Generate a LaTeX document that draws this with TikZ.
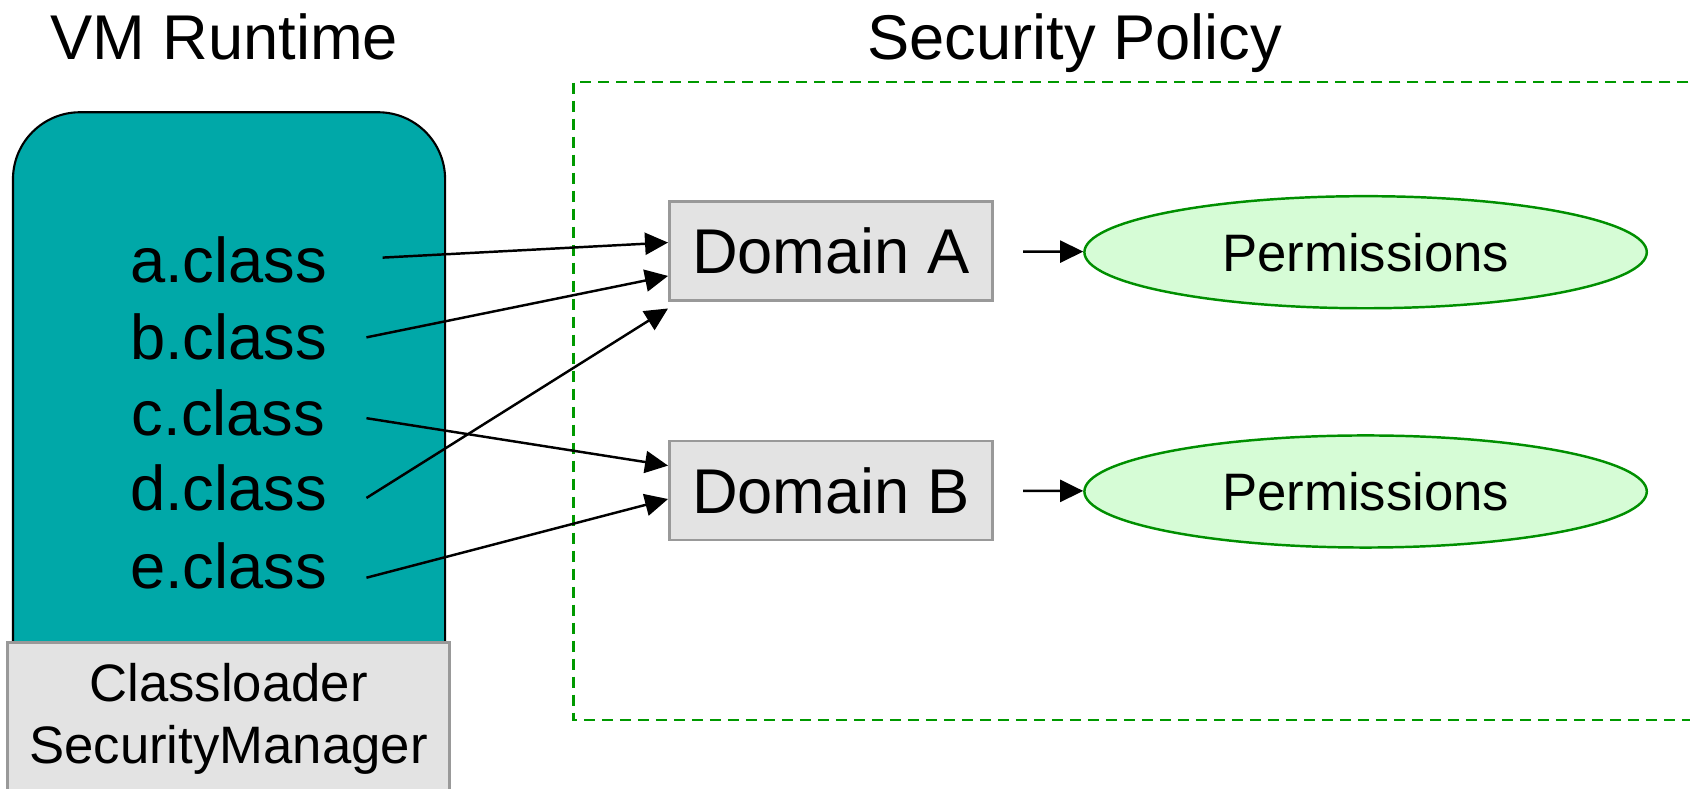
\documentclass[tikz,border=0pt]{standalone}
\usepackage{fontspec}
\setmainfont{Liberation Sans}
\usetikzlibrary{arrows.meta,shapes.geometric}
\definecolor{vmteal}{RGB}{0,168,168}
\definecolor{boxgray}{RGB}{153,153,153}
\definecolor{boxfill}{RGB}{227,227,227}
\definecolor{policygreen}{RGB}{0,153,0}
\definecolor{permline}{RGB}{0,143,0}
\definecolor{permfill}{RGB}{214,252,214}
\tikzset{
	bigtext/.style={font=\fontsize{36}{43}\selectfont},
	smalltext/.style={font=\fontsize{30}{35.4}\selectfont},
	runtime/.style={draw=black, fill=vmteal, line width=1.2pt, rounded corners=1.34cm, minimum width=8.644cm, minimum height=12.93cm, inner sep=0pt},
	domainbox/.style={bigtext, draw=boxgray, fill=boxfill, line width=1.5pt, minimum width=6.467cm, minimum height=1.983cm, inner sep=0pt},
	perm/.style={smalltext, ellipse, draw=permline, fill=permfill, line width=1.4pt, minimum width=11.25cm, minimum height=2.242cm, inner sep=0pt},
	link/.style={-{Triangle[length=0.46cm,width=0.44cm]}, line width=1.4pt},
}
\begin{document}
\begin{tikzpicture}[x=0.021556cm, y=-0.021556cm]
	\useasboundingbox (0,0) rectangle (1568,732);
	\clip (0,0) rectangle (1568,732);

	\node[bigtext, anchor=base] (vmtitle) at (208,55) {VM Runtime};
	\node[bigtext, anchor=base] (sptitle) at (997,55) {Security Policy};

	\draw[draw=policygreen, line width=1.3pt, dash pattern=on 0.22cm off 0.14cm] (1650,76) -- (532,76) -- (532,668) -- (1650,668);

	\node[runtime] (vm) at (212.5,404) {};
	\foreach \n/\y in {a/241,b/313,c/383,d/453,e/525}
		\node[bigtext] (\n) at (212,\y) {\n.class};

	\draw[draw=boxgray, fill=boxfill, line width=1.3pt] (7,596) rectangle (417,820);
	\node[smalltext, align=center] (loader) at (212,667) {Classloader\\SecurityManager};

	\node[domainbox] (da) at (771,233) {Domain A};
	\node[domainbox] (db) at (771,455) {Domain B};

	\node[perm] (pa) at (1267,234) {Permissions};
	\node[perm] (pb) at (1267,456) {Permissions};

	\coordinate (sa) at (355,239);
	\coordinate (sb) at (340,313);
	\coordinate (sc) at (340,388);
	\coordinate (sd) at (340,462);
	\coordinate (se) at (340,536);

	\draw[link] (sa) -- ([yshift=0.172cm]da.west);
	\draw[link] (sb) -- ([yshift=-0.496cm]da.west);
	\draw[link] (sd) -- ([yshift=-0.129cm]da.south west);
	\draw[link] (sc) -- ([yshift=0.496cm]db.west);
	\draw[link] (se) -- ([yshift=-0.172cm]db.west);

	\draw[link, shorten <=0.582cm] (da) -- (pa);
	\draw[link, shorten <=0.582cm] (db) -- (pb);

\end{tikzpicture}
\end{document}
